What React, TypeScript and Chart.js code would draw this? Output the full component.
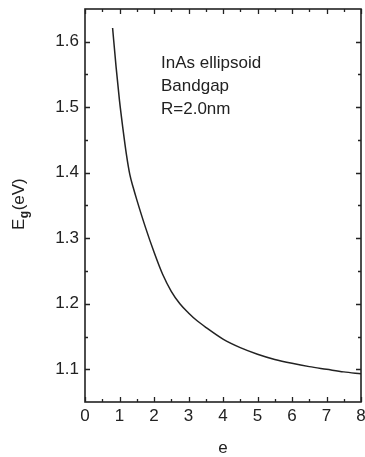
import React, { useEffect, useRef } from "react";
import { Chart, registerables } from "chart.js";

Chart.register(...registerables);

// Data
const eValues = [0.8, 0.9, 1.0, 1.1, 1.2, 1.3, 1.4, 1.5, 1.75, 2.0, 2.25, 2.5, 2.75, 3.0, 3.25, 3.5, 4.0, 4.5, 5.0, 5.5, 6.0, 6.5, 7.0, 7.5, 8.0];
const bandgapValues = [1.621, 1.562, 1.51, 1.467, 1.428, 1.397, 1.377, 1.359, 1.317, 1.279, 1.245, 1.219, 1.2, 1.186, 1.174, 1.164, 1.146, 1.133, 1.123, 1.115, 1.109, 1.104, 1.1, 1.096, 1.093];

const xTickValues = [0, 1, 2, 3, 4, 5, 6, 7, 8];
const xMinorValues = [0.5, 1.5, 2.5, 3.5, 4.5, 5.5, 6.5, 7.5];
const yTickValues = [1.1, 1.2, 1.3, 1.4, 1.5, 1.6];
const yMinorValues = [1.15, 1.25, 1.35, 1.45, 1.55];

const annotationLines = ["InAs ellipsoid", "Bandgap", "R=2.0nm"];
const xTitle = "e";

const FONT = "'Liberation Sans', Arial, sans-serif";
const INK = "#222222";

const framePlugin = {
  id: "frame",
  afterDraw(chart: any) {
    const { ctx, chartArea: a, scales } = chart;
    const xs = scales.x;
    const ys = scales.y;
    ctx.save();
    ctx.strokeStyle = INK;
    ctx.lineWidth = 1.6;
    ctx.strokeRect(a.left, a.top, a.right - a.left, a.bottom - a.top);

    const major = 5;
    const minor = 3;
    ctx.lineWidth = 1.3;
    ctx.beginPath();
    const xTick = (v: number, len: number) => {
      const p = Math.round(xs.getPixelForValue(v)) + 0.5;
      ctx.moveTo(p, a.bottom);
      ctx.lineTo(p, a.bottom - len);
      ctx.moveTo(p, a.top);
      ctx.lineTo(p, a.top + len);
    };
    const yTick = (v: number, len: number) => {
      const p = Math.round(ys.getPixelForValue(v)) + 0.5;
      ctx.moveTo(a.left, p);
      ctx.lineTo(a.left + len, p);
      ctx.moveTo(a.right, p);
      ctx.lineTo(a.right - len, p);
    };
    xTickValues.forEach((v) => xTick(v, major));
    xMinorValues.forEach((v) => xTick(v, minor));
    yTickValues.forEach((v) => yTick(v, major));
    yMinorValues.forEach((v) => yTick(v, minor));
    ctx.stroke();

    ctx.fillStyle = INK;
    // annotation
    ctx.font = `17px ${FONT}`;
    ctx.textAlign = "left";
    ctx.textBaseline = "alphabetic";
    annotationLines.forEach((t, i) => {
      ctx.fillText(t, 161, 68 + i * 23);
    });

    // x title
    ctx.font = `17px ${FONT}`;
    ctx.textAlign = "center";
    ctx.fillText(xTitle, (a.left + a.right) / 2, 453);

    // y title with subscript
    ctx.save();
    ctx.translate(24, 230);
    ctx.rotate(-Math.PI / 2);
    ctx.textAlign = "left";
    ctx.font = `17px ${FONT}`;
    ctx.fillText("E", 0, 0);
    let w = ctx.measureText("E").width;
    ctx.font = `bold 12px ${FONT}`;
    ctx.fillText("g", w + 0.5, 4);
    w += ctx.measureText("g").width + 1;
    ctx.font = `17px ${FONT}`;
    ctx.fillText("(eV)", w, 0);
    ctx.restore();

    ctx.restore();
  },
};

export default function App() {
  const canvasRef = useRef<HTMLCanvasElement | null>(null);

  useEffect(() => {
    if (!canvasRef.current) return;
    const chart = new Chart(canvasRef.current, {
      type: "line",
      data: {
        datasets: [
          {
            data: eValues.map((x, i) => ({ x, y: bandgapValues[i] })),
            borderColor: INK,
            borderWidth: 1.5,
            pointRadius: 0,
            fill: false,
            cubicInterpolationMode: "monotone",
          },
        ],
      },
      options: {
        animation: false,
        responsive: false,
        devicePixelRatio: 1,
        layout: { padding: { left: 0, right: 4, top: 9, bottom: 0 } },
        plugins: {
          legend: { display: false },
          tooltip: { enabled: false },
        },
        scales: {
          x: {
            type: "linear",
            min: 0,
            max: 8,
            grid: { display: false, drawTicks: false, tickLength: 0 },
            border: { display: false },
            afterBuildTicks: (s: any) => {
              s.ticks = xTickValues.map((v) => ({ value: v }));
            },
            afterFit: (s: any) => {
              s.height = 55;
              s.paddingLeft = 0;
              s.paddingRight = 0;
            },
            ticks: {
              padding: 4,
              color: INK,
              font: { family: FONT, size: 17 },
              maxRotation: 0,
              callback: (v: any) => String(v),
            },
          },
          y: {
            type: "linear",
            min: 1.05,
            max: 1.65,
            grid: { display: false, drawTicks: false, tickLength: 0 },
            border: { display: false },
            afterBuildTicks: (s: any) => {
              s.ticks = yTickValues.map((v) => ({ value: v }));
            },
            afterFit: (s: any) => {
              s.width = 85;
              s.paddingTop = 0;
              s.paddingBottom = 0;
            },
            ticks: {
              padding: 6,
              color: INK,
              font: { family: FONT, size: 17 },
              callback: (v: any) => Number(v).toFixed(1),
            },
          },
        },
      },
      plugins: [framePlugin],
    } as any);
    return () => chart.destroy();
  }, []);

  return (
    <div style={{ position: "fixed", left: 0, top: 0, width: 365, height: 457, background: "#fff" }}>
      <canvas ref={canvasRef} width={365} height={457} style={{ width: 365, height: 457, display: "block" }} />
    </div>
  );
}
